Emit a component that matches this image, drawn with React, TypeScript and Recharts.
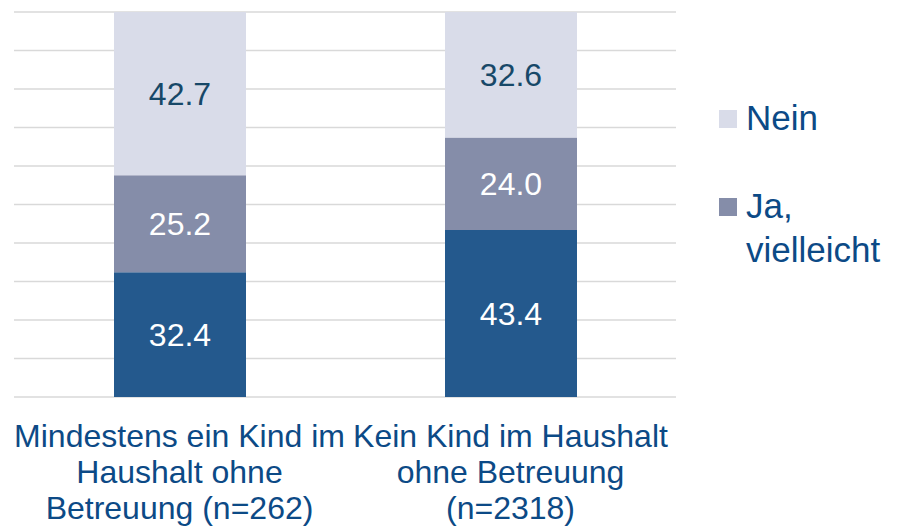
import { BarChart, Bar, XAxis, YAxis, CartesianGrid, Legend, LabelList } from 'recharts'

const categoryLines = [
  ['Mindestens ein Kind im', 'Haushalt ohne', 'Betreuung (n=262)'],
  ['Kein Kind im Haushalt', 'ohne Betreuung', '(n=2318)'],
]
const ja = [32.4, 43.4]
const vielleicht = [25.2, 24.0]
const nein = [42.7, 32.6]
const yTicks = [0, 10, 20, 30, 40, 50, 60, 70, 80, 90, 100]

const FONT = '"Liberation Sans", Arial, sans-serif'
const TEXT_BLUE = '#0c4a86'
const COLORS = { ja: '#24598d', vielleicht: '#858da9', nein: '#d9dce9' }

const data = categoryLines.map((lines, i) => ({
  name: lines.join(' '),
  ja: ja[i],
  vielleicht: vielleicht[i],
  nein: nein[i],
}))

const CategoryTick = (props: any) => {
  const { x, y, payload } = props
  const lines = categoryLines[payload.index] || [String(payload.value)]
  return (
    <text x={x} y={y} textAnchor="middle" fill={TEXT_BLUE} fontSize={32} fontFamily={FONT}>
      {lines.map((line, i) => (
        <tspan key={i} x={x} y={y + 50 + i * 36}>
          {line}
        </tspan>
      ))}
    </text>
  )
}

const LegendContent = (props: any) => {
  const items = (props.payload || []).filter((p: any) => p.dataKey !== 'ja').reverse()
  return (
    <div style={{ fontFamily: FONT, fontSize: 35, lineHeight: '44px', color: TEXT_BLUE }}>
      {items.map((item: any, i: number) => (
        <div key={item.value} style={{ display: 'flex', alignItems: 'flex-start', marginTop: i === 0 ? 0 : 44 }}>
          <div style={{ width: 18, height: 18, background: item.color, marginTop: 14, marginRight: 9, flexShrink: 0 }} />
          <div style={{ width: 151 }}>{item.value}</div>
        </div>
      ))}
    </div>
  )
}

const fmt = (v: any) => Number(v).toFixed(1)

export default function App() {
  return (
    <div style={{ position: 'absolute', left: 0, top: 0 }}>
      <BarChart
        width={897}
        height={527}
        data={data}
        margin={{ top: 12, right: 221, bottom: 0, left: 14 }}
        style={{ fontFamily: FONT }}
      >
        <CartesianGrid vertical={false} stroke="#d9d9d9" strokeWidth={1.5} />
        <YAxis hide domain={[0, 100]} ticks={yTicks} allowDataOverflow />
        <XAxis
          dataKey="name"
          axisLine={false}
          tickLine={false}
          tickSize={0}
          tickMargin={0}
          height={130}
          interval={0}
          tick={<CategoryTick />}
        />
        <Legend
          layout="horizontal"
          align="center"
          verticalAlign="middle"
          wrapperStyle={{ left: 719, top: 96, width: 178 }}
          content={<LegendContent />}
        />
        <Bar dataKey="ja" name="Ja" stackId="a" fill={COLORS.ja} barSize={132} isAnimationActive={false}>
          <LabelList dataKey="ja" position="center" fill="#ffffff" fontSize={32} fontFamily={FONT} formatter={fmt} />
        </Bar>
        <Bar dataKey="vielleicht" name="Ja, vielleicht" stackId="a" fill={COLORS.vielleicht} barSize={132} isAnimationActive={false}>
          <LabelList dataKey="vielleicht" position="center" fill="#ffffff" fontSize={32} fontFamily={FONT} formatter={fmt} />
        </Bar>
        <Bar dataKey="nein" name="Nein" stackId="a" fill={COLORS.nein} barSize={132} isAnimationActive={false}>
          <LabelList dataKey="nein" position="center" fill="#174868" fontSize={32} fontFamily={FONT} formatter={fmt} />
        </Bar>
      </BarChart>
    </div>
  )
}
